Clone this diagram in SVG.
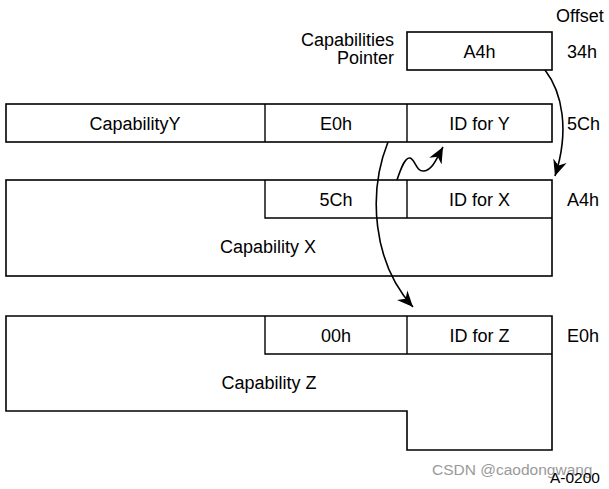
<svg xmlns="http://www.w3.org/2000/svg" width="609" height="489" viewBox="0 0 609 489">
<style>
.box{fill:#fff;stroke:#000;stroke-width:1.6}
.ln{fill:none;stroke:#000;stroke-width:1.4}
.t{font-family:"Liberation Sans",Arial,sans-serif;font-size:18px;fill:#000}
.m{text-anchor:middle}
.e{text-anchor:end}
.wire{fill:none;stroke:#000;stroke-width:1.6}
</style>
<defs>
<marker id="ah" markerUnits="userSpaceOnUse" markerWidth="20" markerHeight="16" refX="16" refY="8" orient="auto" viewBox="0 0 20 16">
<path d="M16,8 L0,1 L5,8 L0,15 Z" fill="#000"/>
</marker>
</defs>
<rect width="609" height="489" fill="#fff"/>

<g id="pointer">
<rect class="box" x="407" y="32" width="145" height="38"/>
<text class="t m" x="479.5" y="58">A4h</text>
<text class="t e" x="394" y="46">Capabilities</text>
<text class="t e" x="394" y="64">Pointer</text>
</g>

<g id="capY">
<rect class="box" x="6" y="104" width="546" height="38"/>
<line class="ln" x1="265" y1="104" x2="265" y2="142"/>
<line class="ln" x1="407" y1="104" x2="407" y2="142"/>
<text class="t m" x="135" y="130">CapabilityY</text>
<text class="t m" x="336" y="130">E0h</text>
<text class="t m" x="479.5" y="130">ID for Y</text>
</g>

<g id="capX">
<rect class="box" x="6" y="180" width="546" height="96"/>
<polyline class="ln" points="265,180 265,218 552,218"/>
<line class="ln" x1="407" y1="180" x2="407" y2="218"/>
<text class="t m" x="336" y="206">5Ch</text>
<text class="t m" x="479.5" y="206">ID for X</text>
<text class="t m" x="268" y="253">Capability X</text>
</g>

<g id="capZ">
<polygon class="box" points="6,316 552,316 552,450 407,450 407,411 6,411"/>
<polyline class="ln" points="265,316 265,354 552,354"/>
<line class="ln" x1="407" y1="316" x2="407" y2="354"/>
<text class="t m" x="336" y="342">00h</text>
<text class="t m" x="479.5" y="342">ID for Z</text>
<text class="t m" x="269" y="389">Capability Z</text>
</g>

<g id="offsets">
<text class="t" x="556" y="22">Offset</text>
<text class="t" x="567" y="58">34h</text>
<text class="t" x="567" y="130">5Ch</text>
<text class="t" x="567" y="206">A4h</text>
<text class="t" x="567" y="342">E0h</text>
</g>

<g id="connectors">
<path class="wire" d="M545,70 C562,92 570,130 555,176" marker-end="url(#ah)"/>
<path class="wire" d="M397,180 C401,168 405,157 410,158 C415,159 416,172 424,171 C432,170 436,160 443,147" marker-end="url(#ah)"/>
<path class="wire" d="M388,142 C368,192 372,262 413,307" marker-end="url(#ah)"/>
</g>

<text x="432" y="475" font-family="Liberation Sans, Arial, sans-serif" font-size="15.5" fill="#9a9a9a">CSDN @caodongwang</text>
<text x="550" y="483" font-family="Liberation Sans, Arial, sans-serif" font-size="15.5" fill="#000">A-0200</text>
</svg>
